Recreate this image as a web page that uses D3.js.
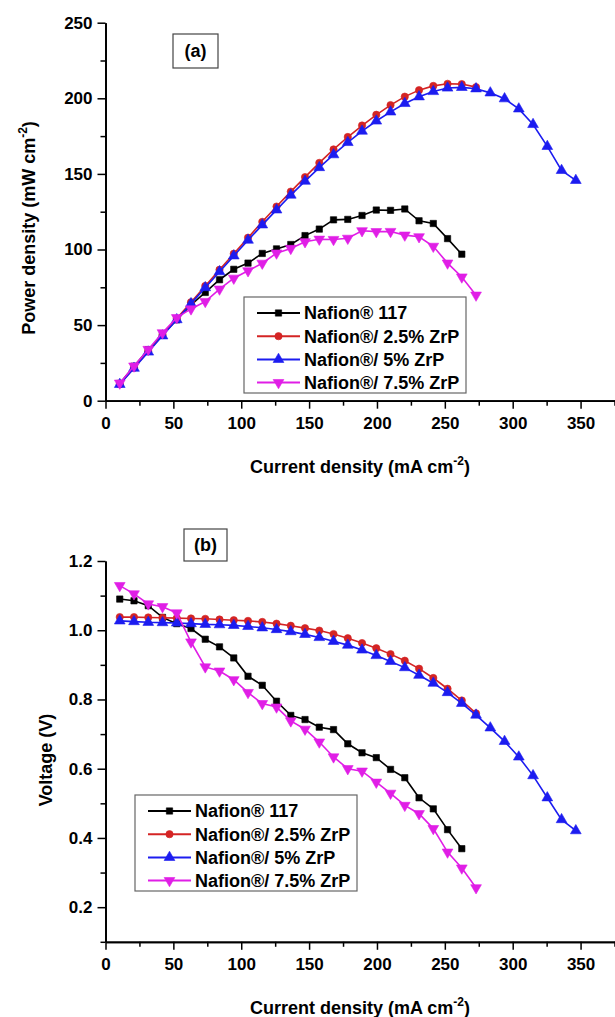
<!DOCTYPE html>
<html><head><meta charset="utf-8">
<script src="https://cdn.jsdelivr.net/npm/d3@7"></script>
<style>
body{margin:0;background:#fff;}
text{font-family:"Liberation Sans",Arial,sans-serif;font-weight:bold;fill:#000;}
</style>
</head><body>
<svg id="chart" width="615" height="1017"></svg>
<script>
// ---------- data ----------
const current = [10.5,21,31.5,42,52.5,63,73.5,84,94.5,105,115.5,126,136.5,147,157.5,168,178.5,189,199.5,210,220.5,231,241.5,252,262.5,273,283.5,294,304.5,315,325.5,336,346.5];
const seriesNames = ["Nafion® 117","Nafion®/ 2.5% ZrP","Nafion®/ 5% ZrP","Nafion®/ 7.5% ZrP"];
const seriesColors = ["#000000","#d42424","#1c1cf0","#e01ee6"];
const seriesSymbols = ["square","circle","triangle","triangleDown"];

const power117 = [11.4,22.8,33.7,43.6,53.5,63.3,71.6,80.0,86.9,91.0,97.4,100.4,103.3,109.2,113.5,119.6,119.9,122.5,126.1,125.9,126.8,119.0,117.2,107.2,96.9];
const power25  = [10.9,21.8,32.7,43.5,54.3,65.1,75.9,86.6,97.2,107.8,118.3,128.4,138.3,147.9,157.3,166.2,174.4,182.0,189.1,195.5,201.1,205.4,208.2,209.6,209.4,207.4];
const power5   = [10.8,21.5,32.2,42.9,53.6,64.2,74.8,85.3,95.8,106.2,116.3,126.2,136.0,145.2,154.2,162.7,170.8,178.3,185.0,191.0,196.6,201.0,204.5,206.8,207.2,206.3,203.6,199.7,193.0,182.7,168.2,152.3,145.7];
const power75  = [11.6,22.9,33.9,44.9,54.9,60.7,65.6,73.8,81.0,85.9,90.9,97.6,100.7,105.1,106.8,106.6,107.4,112.4,111.8,111.9,109.5,108.4,102.1,91.0,81.8,69.8];

const voltage117 = [1.090,1.085,1.071,1.037,1.019,1.005,0.974,0.952,0.920,0.867,0.841,0.795,0.754,0.742,0.720,0.713,0.672,0.646,0.632,0.598,0.574,0.516,0.484,0.424,0.369];
const voltage25  = [1.038,1.038,1.037,1.036,1.035,1.034,1.033,1.031,1.029,1.027,1.024,1.019,1.013,1.006,0.999,0.989,0.977,0.963,0.948,0.931,0.912,0.889,0.862,0.831,0.797,0.760];
const voltage5   = [1.027,1.025,1.023,1.022,1.021,1.019,1.017,1.016,1.014,1.011,1.007,1.002,0.996,0.988,0.979,0.968,0.957,0.943,0.927,0.910,0.892,0.870,0.847,0.820,0.789,0.755,0.718,0.679,0.634,0.580,0.516,0.453,0.421];
const voltage75  = [1.129,1.105,1.076,1.068,1.050,0.966,0.894,0.882,0.857,0.820,0.788,0.778,0.738,0.714,0.677,0.634,0.600,0.593,0.561,0.529,0.494,0.470,0.427,0.359,0.313,0.256];

const xMajorTicks = [0,50,100,150,200,250,300,350];
const xMinorTicks = [25,75,125,175,225,275,325,375];
const powerMajorTicks = [0,50,100,150,200,250];
const powerMinorTicks = [25,75,125,175,225];
const voltMajorTicks = [0.2,0.4,0.6,0.8,1.0,1.2];
const voltMinorTicks = [0.1,0.3,0.5,0.7,0.9,1.1];

// ---------- drawing ----------
const svg = d3.select("#chart");
const FONT_TICK = 17, FONT_TITLE = 18;

const symTypes = {
  square: d3.symbolSquare, circle: d3.symbolCircle,
  triangle: d3.symbolTriangle, triangleDown: d3.symbolTriangle
};
const symSizes = {square: 40, circle: 42, triangle: 50, triangleDown: 50};
function marker(sel, kind, color, x, y) {
  sel.append("path")
    .attr("d", d3.symbol().type(symTypes[kind]).size(symSizes[kind])())
    .attr("transform", `translate(${x},${y})` + (kind === "triangleDown" ? " rotate(180)" : ""))
    .attr("fill", color).attr("stroke", color).attr("stroke-width", 0.6);
}

function panel(opts) {
  const g = svg.append("g");
  const x = d3.scaleLinear().domain([0, 375]).range([105.5, 614.5]);
  const y = d3.scaleLinear().domain(opts.yDomain).range(opts.yRange);

  // axes
  const xAxis = g.append("g").attr("transform", `translate(0,${opts.yRange[0]})`)
    .call(d3.axisBottom(x).tickValues(xMajorTicks).tickSize(8).tickSizeOuter(0).tickPadding(8).tickFormat(d3.format("d")));
  g.append("g").attr("transform", `translate(0,${opts.yRange[0]})`)
    .call(d3.axisBottom(x).tickValues(xMinorTicks).tickSize(5).tickSizeOuter(0).tickFormat(""));
  const yAxis = g.append("g").attr("transform", `translate(105.5,0)`)
    .call(d3.axisLeft(y).tickValues(opts.majors).tickSize(8).tickSizeOuter(0).tickPadding(5).tickFormat(opts.fmt));
  g.append("g").attr("transform", `translate(105.5,0)`)
    .call(d3.axisLeft(y).tickValues(opts.minors).tickSize(5).tickSizeOuter(0).tickFormat(""));
  g.selectAll(".domain").attr("stroke", "#000").attr("stroke-width", 1.8);
  g.selectAll(".tick line").attr("stroke", "#000").attr("stroke-width", 1.5);
  g.selectAll(".tick text").attr("font-size", FONT_TICK)
    .attr("font-family", '"Liberation Sans",Arial,sans-serif').attr("font-weight", "bold").attr("fill", "#000");

  // series
  opts.series.forEach((vals, i) => {
    const pts = vals.map((v, j) => [x(current[j]), y(v)]);
    g.append("path").attr("d", d3.line()(pts))
      .attr("fill", "none").attr("stroke", seriesColors[i]).attr("stroke-width", 1.6);
    const mg = g.append("g");
    pts.forEach(p => marker(mg, seriesSymbols[i], seriesColors[i], p[0], p[1]));
  });

  // label box
  const lb = opts.labelBox;
  g.append("rect").attr("x", lb.x).attr("y", lb.y).attr("width", lb.w).attr("height", lb.h)
    .attr("fill", "#fff").attr("stroke", "#444").attr("stroke-width", 1.2);
  g.append("text").attr("x", lb.x + lb.w / 2).attr("y", lb.y + lb.h / 2).attr("dy", "0.35em")
    .attr("text-anchor", "middle").attr("font-size", 18).text(opts.label);

  // legend
  const L = opts.legend;
  g.append("rect").attr("x", L.x).attr("y", L.y).attr("width", 222).attr("height", 96)
    .attr("fill", "#fff").attr("stroke", "#666").attr("stroke-width", 1.2);
  seriesNames.forEach((name, i) => {
    const ry = L.y + 16 + i * 23.2;
    g.append("line").attr("x1", L.x + 13).attr("x2", L.x + 56).attr("y1", ry).attr("y2", ry)
      .attr("stroke", seriesColors[i]).attr("stroke-width", 2);
    marker(g, seriesSymbols[i], seriesColors[i], L.x + 34.5, ry);
    g.append("text").attr("x", L.x + 60).attr("y", ry).attr("dy", "0.36em")
      .attr("font-size", 18).text(name);
  });

  // x title
  const xt = g.append("text").attr("x", 360).attr("y", opts.yRange[0] + 72)
    .attr("text-anchor", "middle").attr("font-size", FONT_TITLE);
  xt.append("tspan").text("Current density (mA cm");
  xt.append("tspan").attr("dy", -8).attr("font-size", 12).text("-2");
  xt.append("tspan").attr("dy", 8).attr("font-size", FONT_TITLE).text(")");

  // y title
  const yt = g.append("text").attr("transform", `translate(${opts.yTitle.x},${opts.yTitle.y}) rotate(-90)`)
    .attr("text-anchor", "middle").attr("font-size", FONT_TITLE);
  yt.append("tspan").text(opts.yTitle.main);
  if (opts.yTitle.sup) {
    yt.append("tspan").attr("dy", -8).attr("font-size", 12).text(opts.yTitle.sup);
    yt.append("tspan").attr("dy", 8).attr("font-size", FONT_TITLE).text(opts.yTitle.tail);
  }
}

panel({
  yDomain: [0, 250], yRange: [400.7, 22.7],
  majors: powerMajorTicks, minors: powerMinorTicks, fmt: d3.format("d"),
  series: [power117, power25, power5, power75],
  labelBox: {x: 173, y: 34, w: 45, h: 34}, label: "(a)",
  legend: {x: 244, y: 297},
  yTitle: {x: 35, y: 228, main: "Power density (mW cm", sup: "-2", tail: ")"}
});

panel({
  yDomain: [0.1, 1.2], yRange: [941.8, 561],
  majors: voltMajorTicks, minors: voltMinorTicks, fmt: d3.format(".1f"),
  series: [voltage117, voltage25, voltage5, voltage75],
  labelBox: {x: 184, y: 529, w: 43, h: 32}, label: "(b)",
  legend: {x: 135, y: 795},
  yTitle: {x: 52, y: 760, main: "Voltage (V)"}
});
</script>
</body></html>
